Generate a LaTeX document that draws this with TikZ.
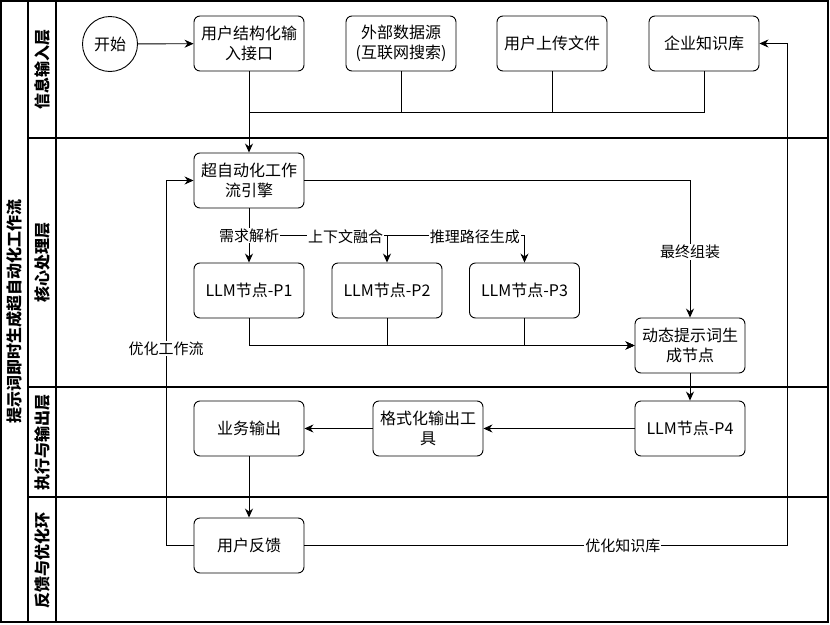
\documentclass[tikz,border=0pt]{standalone}
\usepackage{fontspec}
\setmainfont{Noto Sans CJK SC}
\usetikzlibrary{arrows.meta}
\begin{document}
\begin{tikzpicture}[x=1pt,y=-1pt,
	box/.style={draw,rounded corners=6pt,minimum width=110pt,minimum height=55pt,align=center,inner sep=2pt,line width=0.9pt,font=\fontsize{16}{19.5}\selectfont},
	startc/.style={draw,circle,minimum size=55pt,inner sep=0pt,line width=0.9pt,font=\fontsize{16}{19.5}\selectfont},
	lbl/.style={fill=white,inner sep=1pt,font=\fontsize{15}{17}\selectfont},
	lanetxt/.style={rotate=90,font=\bfseries\fontsize{16}{19}\selectfont},
	arr/.style={line width=0.9pt,-{Stealth[length=9pt,width=8pt]}},
	ln/.style={line width=0.9pt}]
	\useasboundingbox (0,0) rectangle (830,624);
	\draw [line width=1.3pt] (1,1) rectangle (828,622);
	\draw [line width=1.2pt] (28,1) -- (28,622);
	\draw [line width=1.2pt] (56,1) -- (56,622);
	\foreach \y in {138,387,497}
		\draw [line width=1.2pt] (28,\y) -- (828,\y);
	\node [lanetxt] (title) at (14.5,311) {提示词即时生成超自动化工作流};
	\node [lanetxt] (lane1) at (42,69.5) {信息输入层};
	\node [lanetxt] (lane2) at (42,262.5) {核心处理层};
	\node [lanetxt] (lane3) at (42,442) {执行与输出层};
	\node [lanetxt] (lane4) at (42,560) {反馈与优化环};
	\node [startc] (start) at (110,44) {开始};
	\node [box] (uin) at (249,43.5) {用户结构化输\\入接口};
	\node [box] (ext) at (401,43.5) {外部数据源\\(互联网搜索)};
	\node [box] (upl) at (552,43.5) {用户上传文件};
	\node [box] (kb) at (704,43.5) {企业知识库};
	\node [box] (eng) at (249,180.5) {超自动化工作\\流引擎};
	\node [box] (p1) at (249,290.5) {LLM节点-P1};
	\node [box] (p2) at (387,290.5) {LLM节点-P2};
	\node [box] (p3) at (524.5,290.5) {LLM节点-P3};
	\node [box] (dyn) at (690,345.5) {动态提示词生\\成节点};
	\node [box] (p4) at (690,428.5) {LLM节点-P4};
	\node [box] (fmt) at (428,428.5) {格式化输出工\\具};
	\node [box] (biz) at (249,428.5) {业务输出};
	\node [box] (fb) at (249,545.5) {用户反馈};
	\coordinate (jin) at (249,112);
	\coordinate (split) at (249,235);
	\coordinate (lback) at (166,545.5);
	\coordinate (rback) at (787,545.5);
	\draw [arr] (start) -- (uin);
	\foreach \n in {ext,upl,kb}
		\draw [ln] (\n.south) |- (jin);
	\draw [arr] (uin) -- (eng);
	\draw [arr] (split) -| node [lbl,pos=0.41,yshift=-2pt] {推理路径生成} (p3);
	\draw [arr] (split) -| node [lbl,pos=0.35,yshift=-2pt] {上下文融合} (p2);
	\draw [arr] (eng) -- node [lbl] {需求解析} (p1);
	\draw [arr] (eng.east) -| node [lbl,pos=0.76] {最终组装} (dyn.north);
	\foreach \n in {p1,p2,p3}
		\draw [arr] (\n.south) |- (dyn.west);
	\draw [arr] (dyn) -- (p4);
	\draw [arr] (p4) -- (fmt);
	\draw [arr] (fmt) -- (biz);
	\draw [arr] (biz) -- (fb);
	\draw [arr] (fb.west) -- (lback) |- node [lbl,pos=0.27] {优化工作流} (eng.west);
	\draw [arr] (fb.east) -- node [lbl,pos=0.66] {优化知识库} (rback) |- (kb.east);
\end{tikzpicture}
\end{document}
